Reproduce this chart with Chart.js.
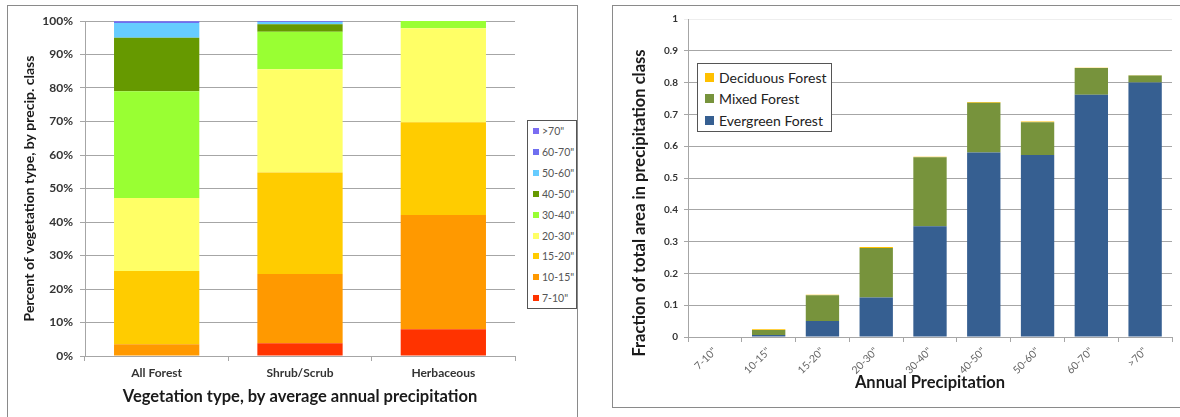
<!DOCTYPE html>
<html>
<head>
<meta charset="utf-8">
<script src="https://cdn.jsdelivr.net/npm/chart.js@4.4.1/dist/chart.umd.min.js"></script>
<style>
  html, body { margin: 0; padding: 0; background: #fff; }
  #wrap { position: relative; width: 1180px; height: 417px; overflow: hidden; font-family: Lato, "Open Sans", sans-serif; }
  .frame { position: absolute; border: 1.5px solid #8a8a8a; pointer-events: none; box-sizing: border-box; }
  canvas { position: absolute; }
  .legend { position: absolute; border: 1px solid #555; background: #fff; box-sizing: border-box; }
  .legend .item { position: absolute; white-space: nowrap; display: flex; align-items: center; }
  .legend .sw { display: inline-block; }
</style>
</head>
<body>
<div id="wrap">
  <div class="frame" style="left:7px; top:5px; width:571px; height:430px;"></div>
  <div class="frame" style="left:612px; top:5px; width:600px; height:403px;"></div>
  <canvas id="left" width="590" height="417" style="left:0; top:0;"></canvas>
  <canvas id="right" width="565" height="417" style="left:615px; top:0;"></canvas>
  <div id="legLeft" class="legend" style="left:527px; top:120px; width:50px; height:189px;"></div>
  <div id="legRight" class="legend" style="left:697px; top:63px; width:135px; height:69px;"></div>
</div>
<script>
// ---------- Left chart data ----------
const vegTypes = ['All Forest', 'Shrub/Scrub', 'Herbaceous'];
const precipClassesLeft = ['7-10"', '10-15"', '15-20"', '20-30"', '30-40"', '40-50"', '50-60"', '60-70"', '>70"'];
const pct_7_10  = [0.0, 3.8, 8.0];
const pct_10_15 = [3.5, 20.7, 34.1];
const pct_15_20 = [21.9, 30.3, 27.7];
const pct_20_30 = [21.8, 30.8, 28.0];
const pct_30_40 = [31.8, 11.2, 2.2];
const pct_40_50 = [16.0, 2.2, 0.0];
const pct_50_60 = [4.4, 0.7, 0.0];
const pct_60_70 = [0.4, 0.2, 0.0];
const pct_gt70  = [0.2, 0.1, 0.0];
const leftTicks = [0, 10, 20, 30, 40, 50, 60, 70, 80, 90, 100];

// ---------- Right chart data ----------
const precipLabels = ['7-10"', '10-15"', '15-20"', '20-30"', '30-40"', '40-50"', '50-60"', '60-70"', '>70"'];
const evergreen = [0, 0.006, 0.050, 0.124, 0.348, 0.580, 0.572, 0.762, 0.800];
const mixed     = [0, 0.016, 0.081, 0.156, 0.217, 0.157, 0.103, 0.084, 0.022];
const deciduous = [0, 0.002, 0.002, 0.003, 0.002, 0.002, 0.003, 0.001, 0.001];
const rightTicks = [0, 0.1, 0.2, 0.3, 0.4, 0.5, 0.6, 0.7, 0.8, 0.9, 1];

// ---------- Styles ----------
const leftValues = [pct_7_10, pct_10_15, pct_15_20, pct_20_30, pct_30_40, pct_40_50, pct_50_60, pct_60_70, pct_gt70];
const leftColors = ['#ff3300', '#ff9900', '#ffcc00', '#ffff66', '#99ff33', '#669900', '#66ccff', '#6f6ff0', '#7a6cf2'];
const FONT = 'Lato, "Open Sans", sans-serif';
const gridCol = '#a6a6a6';

const leftChart = new Chart(document.getElementById('left'), {
  type: 'bar',
  data: {
    labels: vegTypes,
    datasets: precipClassesLeft.map((name, i) => ({
      label: name,
      data: leftValues[i],
      backgroundColor: leftColors[i],
      borderWidth: 0,
      categoryPercentage: 1,
      barPercentage: 0.595
    }))
  },
  options: {
    responsive: false,
    animation: false,
    devicePixelRatio: 1,
    layout: { padding: { left: 17, right: 75, top: 21, bottom: 0 } },
    plugins: { legend: { display: false }, tooltip: { enabled: false } },
    scales: {
      x: {
        stacked: true,
        afterFit: s => { s.height = 61; },
        grid: { offset: true, drawOnChartArea: false, tickLength: 5, color: gridCol },
        border: { color: gridCol, width: 1 },
        ticks: { color: '#333', padding: 5, font: { family: FONT, size: 12, weight: 'bold' } },
        title: { display: true, text: 'Vegetation type, by average annual precipitation', color: '#1a1a1a',
                 font: { family: FONT, size: 16.5, weight: 'bold' }, padding: { top: 4, bottom: 10 } }
      },
      y: {
        stacked: true,
        min: 0, max: 100,
        afterFit: s => { s.width = 68; },
        afterBuildTicks: s => { s.ticks = leftTicks.map(v => ({ value: v })); },
        grid: { color: gridCol, tickLength: 5 },
        border: { color: gridCol, width: 1 },
        ticks: { color: '#333', padding: 7, callback: v => v + '%', font: { family: FONT, size: 12, weight: 'bold' } },
        title: { display: true, text: 'Percent of vegetation type, by precip. class', color: '#1a1a1a',
                 font: { family: FONT, size: 14, weight: 'bold' }, padding: { top: 4, bottom: 4 } }
      }
    }
  }
});

// Left legend (HTML, built from the datasets)
(function () {
  const leg = document.getElementById('legLeft');
  const n = precipClassesLeft.length;
  for (let k = 0; k < n; k++) {
    const i = n - 1 - k;
    const it = document.createElement('div');
    it.className = 'item';
    it.style.left = '5px';
    it.style.top = (3 + k * 20.9) + 'px';
    it.style.height = '14px';
    it.style.fontSize = '10.5px';
    it.style.color = '#555';
    it.innerHTML = '<span class="sw" style="width:6px;height:6px;margin-right:3px;background:' + leftColors[i] + '"></span>';
    it.appendChild(document.createTextNode(precipClassesLeft[i]));
    leg.appendChild(it);
  }
})();

// ---------- Right chart ----------
const rightColors = { ever: '#365f91', mixed: '#77933c', decid: '#ffc000' };
const yTitlePlugin = {
  id: 'yTitleRight',
  afterDraw(chart) {
    const ctx = chart.ctx;
    ctx.save();
    ctx.font = 'bold 16.5px ' + FONT;
    ctx.fillStyle = '#1a1a1a';
    ctx.textAlign = 'center';
    ctx.textBaseline = 'middle';
    ctx.translate(25, 203);
    ctx.rotate(-Math.PI / 2);
    ctx.fillText('Fraction of total area in precipitation class', 0, 0);
    ctx.restore();
  }
};

const rightChart = new Chart(document.getElementById('right'), {
  type: 'bar',
  data: {
    labels: precipLabels,
    datasets: [
      { label: 'Evergreen Forest', data: evergreen, backgroundColor: rightColors.ever, borderWidth: 0, categoryPercentage: 1, barPercentage: 0.62 },
      { label: 'Mixed Forest', data: mixed, backgroundColor: rightColors.mixed, borderWidth: 0, categoryPercentage: 1, barPercentage: 0.62 },
      { label: 'Deciduous Forest', data: deciduous, backgroundColor: rightColors.decid, borderWidth: 0, categoryPercentage: 1, barPercentage: 0.62 }
    ]
  },
  options: {
    responsive: false,
    animation: false,
    devicePixelRatio: 1,
    layout: { padding: { left: 11, right: 8, top: 19, bottom: 0 } },
    plugins: { legend: { display: false }, tooltip: { enabled: false } },
    scales: {
      x: {
        stacked: true,
        afterFit: s => { s.height = 80; },
        grid: { offset: true, drawOnChartArea: false, tickLength: 5, color: gridCol },
        border: { color: gridCol, width: 1 },
        ticks: { color: '#666', padding: 3, minRotation: 45, maxRotation: 45, font: { family: FONT, size: 10.5 } },
        title: { display: true, text: 'Annual Precipitation', color: '#1a1a1a',
                 font: { family: FONT, size: 16.5, weight: 'bold' }, padding: { top: 2, bottom: 24 } }
      },
      y: {
        stacked: true,
        min: 0, max: 1,
        afterFit: s => { s.width = 62; },
        afterBuildTicks: s => { s.ticks = rightTicks.map(v => ({ value: v })); },
        grid: { color: ctx => (ctx.tick && ctx.tick.value === 1) ? '#eeeeee' : gridCol, tickLength: 4 },
        border: { color: gridCol, width: 1 },
        ticks: { color: '#333', padding: 6, callback: v => String(+Number(v).toFixed(1)), font: { family: FONT, size: 10, weight: 'bold' } },
        title: { display: false, text: 'Fraction of total area in precipitation class' }
      }
    }
  },
  plugins: [yTitlePlugin]
});

// Right legend (HTML, built from the datasets, reversed order)
(function () {
  const leg = document.getElementById('legRight');
  const ds = rightChart.data.datasets.slice().reverse();
  ds.forEach((d, k) => {
    const it = document.createElement('div');
    it.className = 'item';
    it.style.left = '7px';
    it.style.top = (4 + k * 21.5) + 'px';
    it.style.height = '18px';
    it.style.fontSize = '14px';
    it.style.color = '#222';
    it.innerHTML = '<span class="sw" style="width:9px;height:9px;margin-right:5px;background:' + d.backgroundColor + '"></span>';
    it.appendChild(document.createTextNode(d.label));
    leg.appendChild(it);
  });
})();
</script>
</body>
</html>
